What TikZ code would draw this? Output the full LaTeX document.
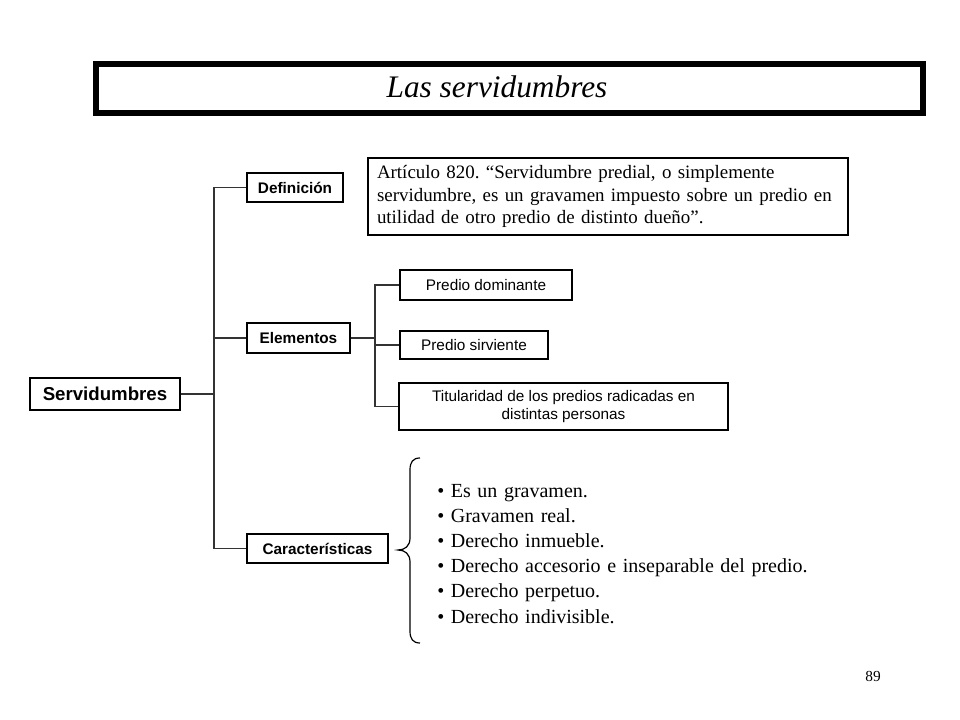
\documentclass[tikz,border=0pt]{standalone}
\usepackage{fontspec}
\setmainfont{Liberation Serif}
\newfontfamily\arial{Liberation Sans}
\frenchspacing
\newcommand\mybulfont{\fontsize{15}{18}\selectfont\spaceskip=0.33em\relax}
\begin{document}
\begin{tikzpicture}[x=0.75pt,y=-0.75pt,
  box/.style={draw=black,line width=0.8pt,inner sep=0pt,anchor=center},
  lbl/.style={box,font=\arial\fontsize{11.5}{13}\selectfont\bfseries},
  sub/.style={box,font=\arial\fontsize{11.5}{14}\selectfont,align=center},
  conn/.style={draw=black!80,line width=1.2pt},
  bul/.style={anchor=base west,inner sep=0pt,font=\mybulfont}]
\useasboundingbox (0,0) rectangle (960,720);
\fill[white] (0,0) rectangle (960,720);
% title
\draw[line width=4.5pt] (96,64) rectangle (923,113);
\node[anchor=base,inner sep=0pt,font=\fontsize{23.5}{26}\selectfont\itshape] (title) at (497,98) {Las servidumbres};
% nodes
\node[box,font=\arial\fontsize{14}{16}\selectfont\bfseries,minimum width=112.5pt,minimum height=24pt] (serv) at (105,394) {Servidumbres};
\node[lbl,minimum width=72pt,minimum height=21.75pt] (def) at (295,187.5) {Definición};
\node[lbl,minimum width=77.25pt,minimum height=22.5pt] (elem) at (298.5,338) {Elementos};
\node[lbl,minimum width=105.75pt,minimum height=21.75pt] (car) at (317.5,548.5) {Características};
\node[box,align=left,text width=346.5pt,inner xsep=6.75pt,minimum height=57.75pt,font=\fontsize{14.2}{17.1}\selectfont] (art) at (608,196.5)
  {Artículo 820. “Servidumbre predial, o simplemente\\servidumbre, es un gravamen impuesto sobre un predio en\\utilidad de otro predio de distinto dueño”.};
\node[sub,minimum width=129pt,minimum height=22.5pt] (pd) at (486,285) {Predio dominante};
\node[sub,minimum width=111pt,minimum height=21pt] (ps) at (474,345) {Predio sirviente};
\node[sub,minimum width=246.75pt,minimum height=35.25pt] (tit) at (563.5,406.5) {Titularidad de los predios radicadas en\\distintas personas};
% connectors
\coordinate (trunk) at (214,0);
\coordinate (subtrunk) at (375,0);
\draw[conn] (serv.east) -- (serv.east -| trunk);
\draw[conn] (def.west) -- (def.west -| trunk) -- (car.west -| trunk) -- (car.west);
\draw[conn] (elem.west) -- (elem.west -| trunk);
\draw[conn] (elem.east) -- (elem.east -| subtrunk);
\draw[conn] (pd.west) -- (pd.west -| subtrunk) -- (tit.west -| subtrunk) -- (tit.west);
\draw[conn] (ps.west) -- (ps.west -| subtrunk);
% brace
\draw[line width=0.9pt] (420,458) .. controls (413,458) and (410,462) .. (410,470) -- (410,538)
  .. controls (410,546) and (405,550) .. (398,550)
  .. controls (405,550) and (410,554) .. (410,562) -- (410,631)
  .. controls (410,639) and (413,643) .. (420,643);
% bullets
\node[bul] (b1) at (437,497) {• Es un gravamen.};
\node[bul] (b2) at (437,522) {• Gravamen real.};
\node[bul] (b3) at (437,547) {• Derecho inmueble.};
\node[bul] (b4) at (437,572) {• Derecho accesorio e inseparable del predio.};
\node[bul] (b5) at (437,597) {• Derecho perpetuo.};
\node[bul] (b6) at (437,623) {• Derecho indivisible.};
% page number
\node[inner sep=0pt,font=\fontsize{11.5}{13}\selectfont] (pg) at (873,676) {89};
\end{tikzpicture}
\end{document}
